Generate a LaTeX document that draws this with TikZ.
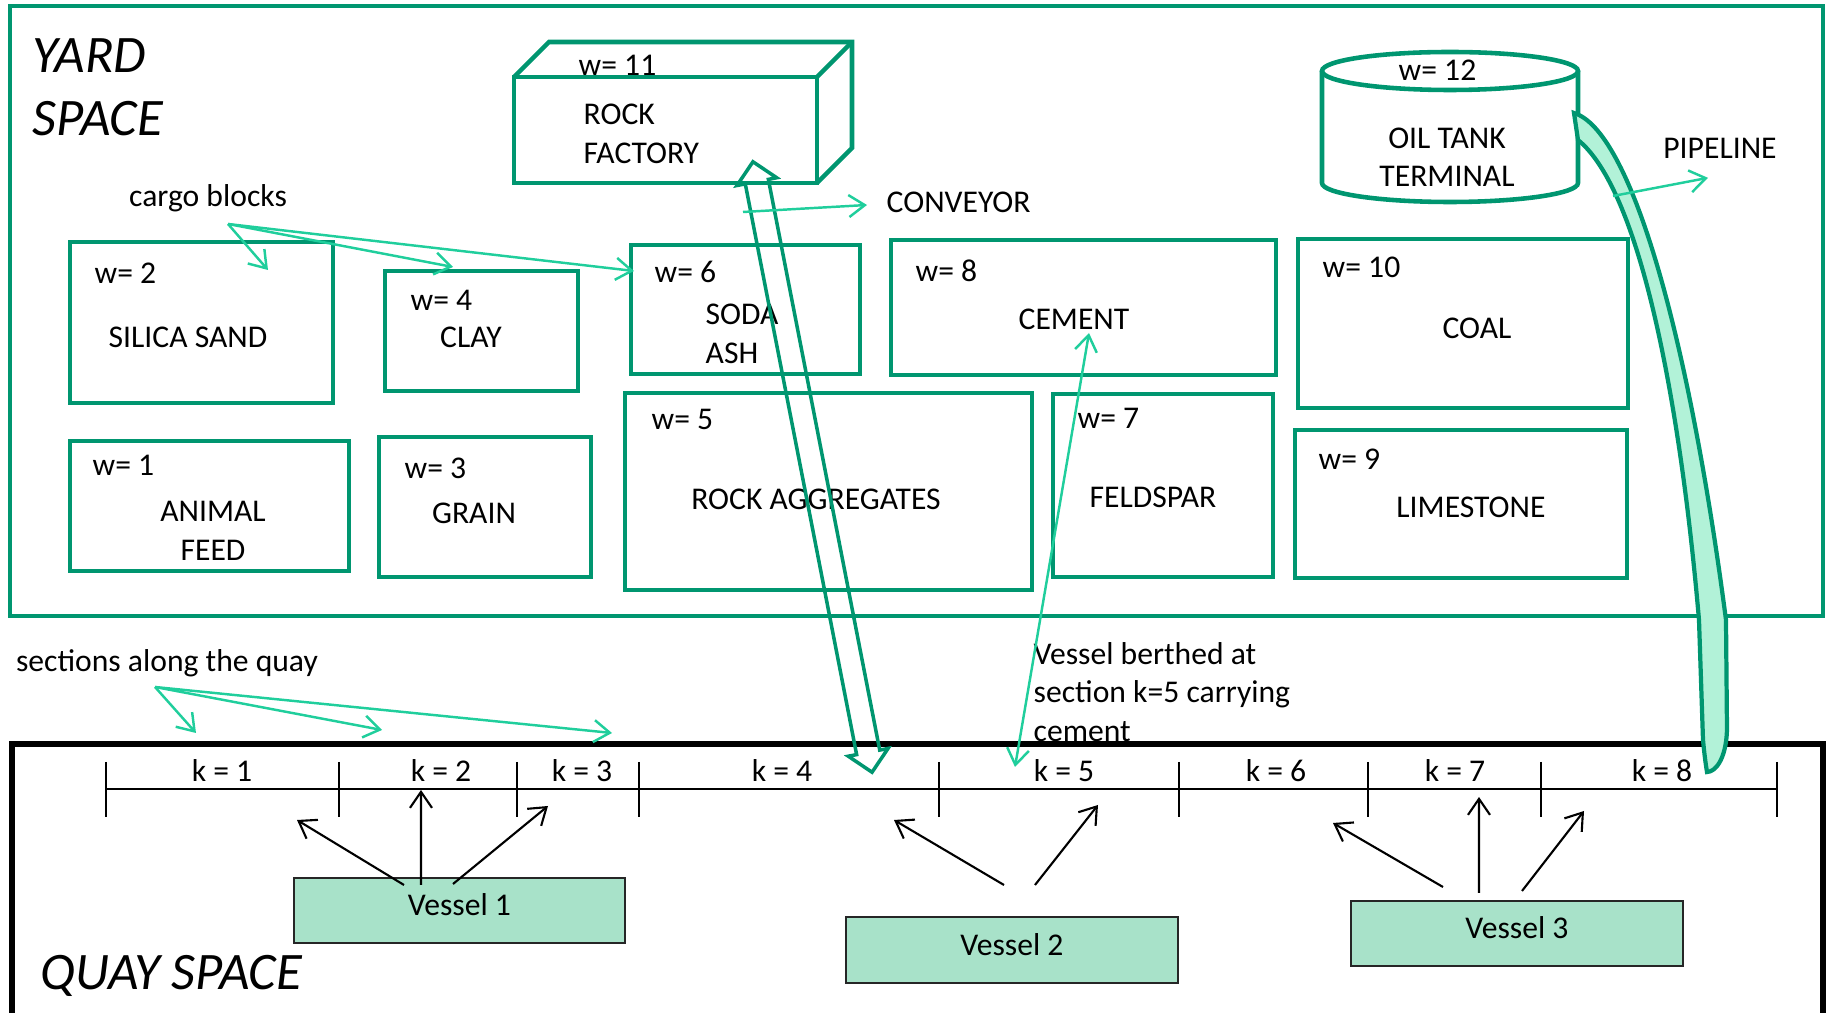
\documentclass[tikz,border=0pt]{standalone}
\usepackage{fontspec}
\setmainfont{Carlito}
\usetikzlibrary{shapes, arrows.meta, positioning}

\definecolor{yardgreen}{RGB}{0,150,112}
\definecolor{notegreen}{RGB}{32,206,156}
\definecolor{vesselfill}{RGB}{168,226,201}
\definecolor{pipefill}{RGB}{178,242,216}

\begin{document}
\begin{tikzpicture}[
    % GLOBAL CFG
    x=0.1mm, y=-0.1mm,
    font=\fontsize{9}{10.9}\selectfont,
    >={Straight Barb[length=1.6mm,width=2.2mm]},
    % Styles
    area/.style={% For the yard and the quay
        rectangle,
        draw=yardgreen,
        line width=1.3pt,
        outer sep=0pt,
        },
    block/.style={% For the cargo blocks
        rectangle,
        draw=yardgreen,
        line width=1.3pt,
        outer sep=0pt,
        inner sep=0pt,
        },
    blockline/.style={% For the drawn parts of factory and tank
        draw=yardgreen,
        line width=1.3pt,
        },
    vessel/.style={% For the ships
        rectangle,
        draw=black!85,
        fill=vesselfill,
        line width=0.6pt,
        outer sep=0pt,
        text depth=1.1mm,
        },
    conv/.style={% The conveyor between factory and quay
        double arrow,
        draw=yardgreen,
        line width=1pt,
        inner sep=1mm,
        double arrow head extend=0.85mm,
        minimum height=6.22cm,
        },
    pipe/.style={% The pipeline from the tank
        draw=yardgreen,
        line width=1.2pt,
        fill=pipefill,
        },
    txt/.style={% plain labels
        inner sep=0pt,
        align=center,
        },
    wtxt/.style={% weight labels
        inner sep=0pt,
        anchor=west,
        },
    bigtxt/.style={% space names
        font=\fontsize{15}{18}\selectfont\itshape,
        inner sep=0pt,
        align=left,
        anchor=west,
        },
    note/.style={% green pointers
        draw=notegreen,
        line width=0.7pt,
        },
    ArrowV/.style={% black pointers from the vessels
        ->,
        line width=0.6pt,
        },
    ]
\useasboundingbox (0,0) rectangle (1830,1013);

%Start drawing the thing...
    % The two spaces
    \node [area, minimum width=18.13cm, minimum height=6.10cm] (yard) at (916.5,311) {};
    \node [area, draw=black, line width=1.5pt, minimum width=18.11cm, minimum height=2.76cm] (quay) at (917.5,882) {};
    \node [bigtxt] (yard-t) at (32,87) {YARD\\SPACE};
    \node [bigtxt] (quay-t) at (40,976) {QUAY SPACE};

    % Cargo blocks, first row
    \node [block, minimum width=2.63cm, minimum height=1.61cm] (silica) at (201.5,322.5) {};
    \node [block, minimum width=1.93cm, minimum height=1.20cm] (clay) at (481.5,331) {};
    \node [block, minimum width=2.29cm, minimum height=1.29cm] (soda) at (745.5,309.5) {};
    \node [block, minimum width=3.85cm, minimum height=1.35cm] (cement) at (1083.5,307.5) {};
    \node [block, minimum width=3.30cm, minimum height=1.69cm] (coal) at (1463,323.5) {};

    % Cargo blocks, second row
    \node [block, minimum width=2.79cm, minimum height=1.30cm] (feed) at (209.5,506) {};
    \node [block, minimum width=2.12cm, minimum height=1.40cm] (grain) at (485,507) {};
    \node [block, minimum width=4.07cm, minimum height=1.97cm] (aggr) at (828.5,491.5) {};
    \node [block, minimum width=2.20cm, minimum height=1.83cm] (feldspar) at (1163,485.5) {};
    \node [block, minimum width=3.32cm, minimum height=1.48cm] (lime) at (1461,504) {};

    % Weights named <block>-w
    \node [wtxt] (silica-w) at (94,273) {w= 2};
    \node [wtxt] (clay-w) at (410,300) {w= 4};
    \node [wtxt] (soda-w) at (654,272) {w= 6};
    \node [wtxt] (cement-w) at (915,271) {w= 8};
    \node [wtxt] (coal-w) at (1322,267) {w= 10};
    \node [wtxt] (feed-w) at (92,465) {w= 1};
    \node [wtxt] (grain-w) at (404,468) {w= 3};
    \node [wtxt] (aggr-w) at (651,419) {w= 5};
    \node [wtxt] (feldspar-w) at (1077,418) {w= 7};
    \node [wtxt] (lime-w) at (1318,459) {w= 9};

    % Cargo names named <block>-t
    \node [txt] (silica-t) at (188,337) {SILICA SAND};
    \node [txt] (clay-t) at (471,337) {CLAY};
    \node [txt, align=left, anchor=west] (soda-t) at (705,334) {SODA\\ASH};
    \node [txt] (cement-t) at (1074,319) {CEMENT};
    \node [txt] (coal-t) at (1477,328) {COAL};
    \node [txt] (feed-t) at (213,531) {ANIMAL\\FEED};
    \node [txt] (grain-t) at (474,513) {GRAIN};
    \node [txt] (aggr-t) at (816,499) {ROCK AGGREGATES};
    \node [txt] (feldspar-t) at (1153,497) {FELDSPAR};
    \node [txt] (lime-t) at (1471,507) {LIMESTONE};

    % Rock factory as a box
    \node [block, minimum width=3.03cm, minimum height=1.06cm] (factory) at (665.5,130) {};
    \draw [blockline] (factory.north west) -- ++(35,-35) -- ++(303,0) coordinate (factory-back)
        -- ++(0,106) -- (factory.south east);
    \draw [blockline] (factory.north east) -- (factory-back);
    \node [wtxt] (factory-w) at (578,65) {w= 11};
    \node [txt, align=left, anchor=west] (factory-t) at (583,134) {ROCK\\FACTORY};

    % Oil tank as a cylinder
    \draw [blockline] (1322,71) -- (1322,183) arc [start angle=180, end angle=360, x radius=12.8mm, y radius=1.9mm] -- (1578,71);
    \draw [blockline] (1450,71) ellipse [x radius=12.8mm, y radius=1.9mm];
    \node [wtxt] (tank-w) at (1398,70) {w= 12};
    \node [txt] (tank-t) at (1447,157.5) {OIL TANK\\TERMINAL};

    % Pipeline and conveyor
    \draw [pipe] (1574,113) .. controls (1630,130) and (1688,330) .. (1726,620) -- (1727,730)
        .. controls (1726,760) and (1715,772) .. (1707,772)
        .. controls (1705,760) and (1704,750) .. (1703,740) -- (1699,620)
        .. controls (1680,400) and (1640,190) .. (1578,140) -- cycle;
    \node [conv, rotate=-78.96] (conveyor) at (812.5,467) {};

    % Quay sections
    \coordinate (quay-w) at (106,789);
    \coordinate (quay-e) at (1777,789);
    \draw [line width=0.6pt] (quay-w) -- (quay-e);
    \foreach \x in {106,339,517,639,939,1179,1368,1541,1777}
        \draw [line width=0.7pt] (\x,762) -- (\x,817);
    \foreach \k/\x in {1/222,2/441,3/582,4/782,5/1064,6/1276,7/1455,8/1662}
        \node [txt] (k\k) at (\x,771) {k = \k};

    % Vessels
    \node [vessel, minimum width=3.31cm, minimum height=0.65cm] (ves1) at (459.5,910.5) {Vessel 1};
    \node [vessel, minimum width=3.32cm, minimum height=0.66cm] (ves2) at (1012,950) {Vessel 2};
    \node [vessel, minimum width=3.32cm, minimum height=0.65cm] (ves3) at (1517,933.5) {Vessel 3};

    % Where the vessels may berth
    \coordinate (v1-l) at (297,820);
    \coordinate (v1-m) at (421,790);
    \coordinate (v1-r) at (548,806);
    \coordinate (v2-l) at (894,820);
    \coordinate (v2-r) at (1098,805);
    \coordinate (v3-l) at (1333,823);
    \coordinate (v3-m) at (1479,797);
    \coordinate (v3-r) at (1584,811);
    \draw [ArrowV] ([xshift=-5.55mm,yshift=-0.7mm]ves1.north) -- (v1-l);
    \draw [ArrowV] ([xshift=-3.85mm,yshift=-0.7mm]ves1.north) -- (v1-m);
    \draw [ArrowV] ([xshift=-0.65mm,yshift=-0.6mm]ves1.north) -- (v1-r);
    \draw [ArrowV] ([xshift=-0.8mm,yshift=3.2mm]ves2.north) -- (v2-l);
    \draw [ArrowV] ([xshift=2.3mm,yshift=3.2mm]ves2.north) -- (v2-r);
    \draw [ArrowV] ([xshift=-7.4mm,yshift=1.4mm]ves3.north) -- (v3-l);
    \draw [ArrowV] ([xshift=-3.8mm,yshift=0.8mm]ves3.north) -- (v3-m);
    \draw [ArrowV] ([xshift=0.5mm,yshift=1.0mm]ves3.north) -- (v3-r);

    % Green notes
    \node [txt] (cargo-t) at (208,198) {cargo blocks};
    \coordinate (cargo-foot) at (228,224);
    \coordinate (cargo-1) at (268,270);
    \coordinate (cargo-2) at (453,267);
    \coordinate (cargo-3) at (634,271);
    \draw [note, ->] (cargo-foot) -- (cargo-1);
    \draw [note, ->] (cargo-foot) -- (cargo-2);
    \draw [note, ->] (cargo-foot) -- (cargo-3);

    \node [txt] (sections-t) at (167,663) {sections along the quay};
    \coordinate (sections-foot) at (155,687);
    \coordinate (sections-1) at (196,733);
    \coordinate (sections-2) at (382,730);
    \coordinate (sections-3) at (612,733);
    \draw [note, ->] (sections-foot) -- (sections-1);
    \draw [note, ->] (sections-foot) -- (sections-2);
    \draw [note, ->] (sections-foot) -- (sections-3);

    \node [wtxt] (conv-t) at (886,202) {CONVEYOR};
    \coordinate (conv-foot) at (743,212);
    \draw [note, ->] (conv-foot) -- ([xshift=-1.9mm,yshift=-0.3mm]conv-t.west);

    \node [txt] (pipe-t) at (1720,148) {PIPELINE};
    \coordinate (pipe-foot) at (1613,196);
    \draw [note, ->] (pipe-foot) -- ([xshift=-1.2mm,yshift=-1.9mm]pipe-t.south);

    \node [txt, align=left, anchor=west] (berth-t) at (1033,692) {Vessel berthed at\\section k=5 carrying\\cement};
    \coordinate (cement-pt) at (1089,333);
    \coordinate (k5-pt) at (1015,767);
    \draw [note, <->] (cement-pt) -- (k5-pt);

\end{tikzpicture}
\end{document}
